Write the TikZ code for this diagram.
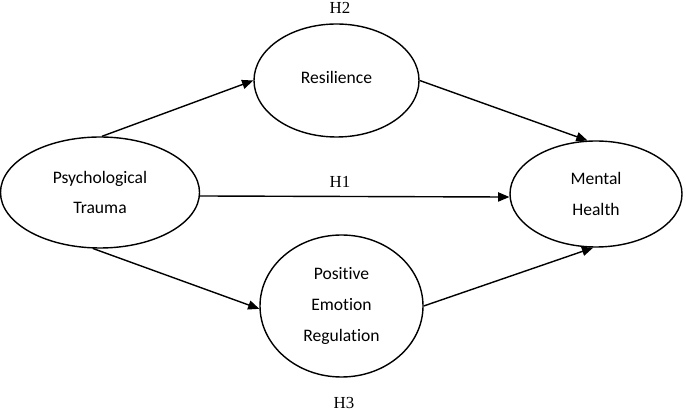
\documentclass[tikz,border=0pt]{standalone}
\usepackage{fontspec}
\setmainfont{Carlito}[Ligatures=NoCommon]
\newfontfamily\hfont{Liberation Serif}
\usetikzlibrary{shapes.geometric, arrows.meta}
\tikzset{
	latentnode/.style={
			ellipse,
			draw=black,
			line width=1pt,
			fill=white,
			inner sep=0pt,
			align=center,
			font={\fontsize{12.5}{22}\selectfont}
		},
	pathedge/.style={
			draw=black,
			line width=1pt,
			-{Triangle[length=8pt,width=6.5pt]}
		},
	hlabel/.style={
			inner sep=0pt,
			font={\hfont\fontsize{12}{14}\selectfont}
		}
}

\begin{document}
\begin{tikzpicture}
\useasboundingbox (0,0) rectangle (17.15,10.25);
\node[latentnode, minimum width=4.975cm, minimum height=2.775cm] (trauma) at (2.5,5.4375) {Psychological\\Trauma};
\node[latentnode, minimum width=4.125cm, minimum height=2.825cm] (resil) at (8.4125,8.2375) {\raisebox{0.15cm}{Resilience}};
\node[latentnode, minimum width=4.3cm, minimum height=2.65cm] (mental) at (14.9,5.4) {Mental\\Health};
\node[latentnode, minimum width=4.075cm, minimum height=3.55cm] (per) at (8.5375,2.6) {Positive\\Emotion\\Regulation};

\node[hlabel] (h2) at (8.5,10.05) {H2};
\node[hlabel] (h1) at (8.5,5.7) {H1};
\node[hlabel] (h3) at (8.6,0.18) {H3};

\draw[pathedge] (trauma.88) -- (resil.west);
\draw[pathedge] (resil.east) -- (mental.99);
\draw[pathedge] (trauma.-2.6) -- (mental.182.3);
\draw[pathedge] (trauma.263) -- (per.182);
\draw[pathedge] (per.east) -- (mental.267);

\end{tikzpicture}
\end{document}
